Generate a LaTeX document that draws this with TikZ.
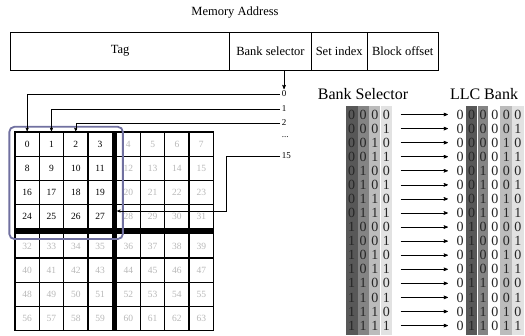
\documentclass[tikz,border=0pt]{standalone}
\usepackage{fontspec}
\setmainfont{Liberation Serif}
\usetikzlibrary{arrows,positioning,calc}
\definecolor{selpurple}{RGB}{112,112,160}
\definecolor{bitA}{RGB}{88,88,88}
\definecolor{bitB}{RGB}{132,132,132}
\definecolor{bitC}{RGB}{188,188,188}
\definecolor{bitD}{RGB}{226,226,226}
\newcommand{\bitbox}[1]{\makebox[11.6pt]{#1}}

\begin{document}
\begin{tikzpicture}[x=1pt,y=-1pt,->,>=stealth',semithick]
\tikzstyle{field}=[draw,-,line width=0.8pt,outer sep=0pt,inner sep=0pt,minimum height=38pt,
  font=\fontsize{12.5}{14}\selectfont]
\tikzstyle{cell}=[draw,-,line width=1.3pt,minimum size=24.3pt,inner sep=0pt,
  font=\fontsize{9.5}{11}\selectfont]
\tikzstyle{sel}=[anchor=west,inner sep=1.5pt,font=\fontsize{9}{10}\selectfont]
\tikzstyle{title}=[font=\fontsize{16}{18}\selectfont]
\tikzstyle{bits}=[inner sep=0pt,text=black!85,font=\fontsize{14}{15}\selectfont]
\useasboundingbox (0,0) rectangle (525,335);

% memory address fields
\node[font=\fontsize{12.5}{14}\selectfont] (memaddr) at (235,13) {Memory Address};
\node[field,anchor=north west,minimum width=219pt] (tag) at (10.7,32) {Tag};
\node[field,minimum width=81.5pt,right=0pt of tag] (bsel) {Bank selector};
\node[field,minimum width=56pt,right=0pt of bsel] (setidx) {Set index};
\node[field,minimum width=71pt,right=0pt of setidx] (blkoff) {Block offset};

% bank selector values
\node[sel] (l0) at (280,94) {0};
\node[sel] (l1) at (280,109) {1};
\node[sel] (l2) at (280,123) {2};
\node[sel] (ldots) at (280,137) {...};
\node[sel] (l15) at (280,156) {15};

% banks
\foreach \r in {0,...,7}{
  \foreach \c in {0,...,7}{
    \pgfmathtruncatemacro{\n}{8*\r+\c}
    \pgfmathsetmacro{\xx}{27.15+24.3*\c+4*(\c>3)}
    \pgfmathsetmacro{\yy}{144.1+24.2*\r+5*(\r>3)}
    \pgfmathtruncatemacro{\inner}{and(\r<4,\c<4)}
    \ifnum\inner=1 \def\tc{black}\else\def\tc{black!28}\fi
    \node[cell,text=\tc] (c\n) at (\xx,\yy) {\n};
  }
}
\draw[-,line width=4.5pt] ($(c3.north east)!0.5!(c4.north west)$) -- ($(c59.south east)!0.5!(c60.south west)$);
\draw[-,line width=5pt] ($(c24.south west)!0.5!(c32.north west)$) -- ($(c31.south east)!0.5!(c39.north east)$);
\draw[-,selpurple,line width=1.8pt,rounded corners=5pt]
  ($(c0.north west)+(-5,-4.5)$) rectangle ($(c27.south east)+(10,9.5)$);

% connectors
\draw (bsel.south -| l0.north) -- (l0.north);
\draw[thin] (l0.west) -| (c0.north);
\draw[thin] (l1.west) -| (c1.north);
\draw[thin] (l2.west) -| (c2.north);
\coordinate (bar15) at (117,211);
\draw[thin] (l15.west) -- ++(-54,0) |- (bar15);

% bank selector to LLC bank mapping
\node[title] (bstitle) at (363,94) {Bank Selector};
\node[title] (llctitle) at (484,94) {LLC Bank};
\fill[bitA] (346,106) rectangle (357.6,335);
\fill[bitB] (358.4,106) rectangle (368.6,335);
\fill[bitC] (369.4,106) rectangle (380.2,335);
\fill[bitD] (381,106) rectangle (392,335);
\fill[bitA] (465.6,106) rectangle (477,335);
\fill[bitB] (477.8,106) rectangle (488.4,335);
\fill[bitC] (500.4,106) rectangle (511.6,335);
\fill[bitD] (512.4,106) rectangle (523.6,335);
\foreach \i in {0,...,15}{
  \pgfmathtruncatemacro{\bthree}{div(\i,8)}
  \pgfmathtruncatemacro{\btwo}{mod(div(\i,4),2)}
  \pgfmathtruncatemacro{\bone}{mod(div(\i,2),2)}
  \pgfmathtruncatemacro{\bzero}{mod(\i,2)}
  \pgfmathsetmacro{\yy}{114.5+14.07*\i}
  \node[bits] (bs\i) at (369,\yy) {\bitbox{\bthree}\bitbox{\btwo}\bitbox{\bone}\bitbox{\bzero}};
  \node[bits] (llc\i) at (489,\yy) {\bitbox{0}\bitbox{\bthree}\bitbox{\btwo}\bitbox{0}\bitbox{\bone}\bitbox{\bzero}};
  \draw[shorten <=8pt,shorten >=6pt] (bs\i.east) -- (llc\i.west);
}
\end{tikzpicture}
\end{document}
